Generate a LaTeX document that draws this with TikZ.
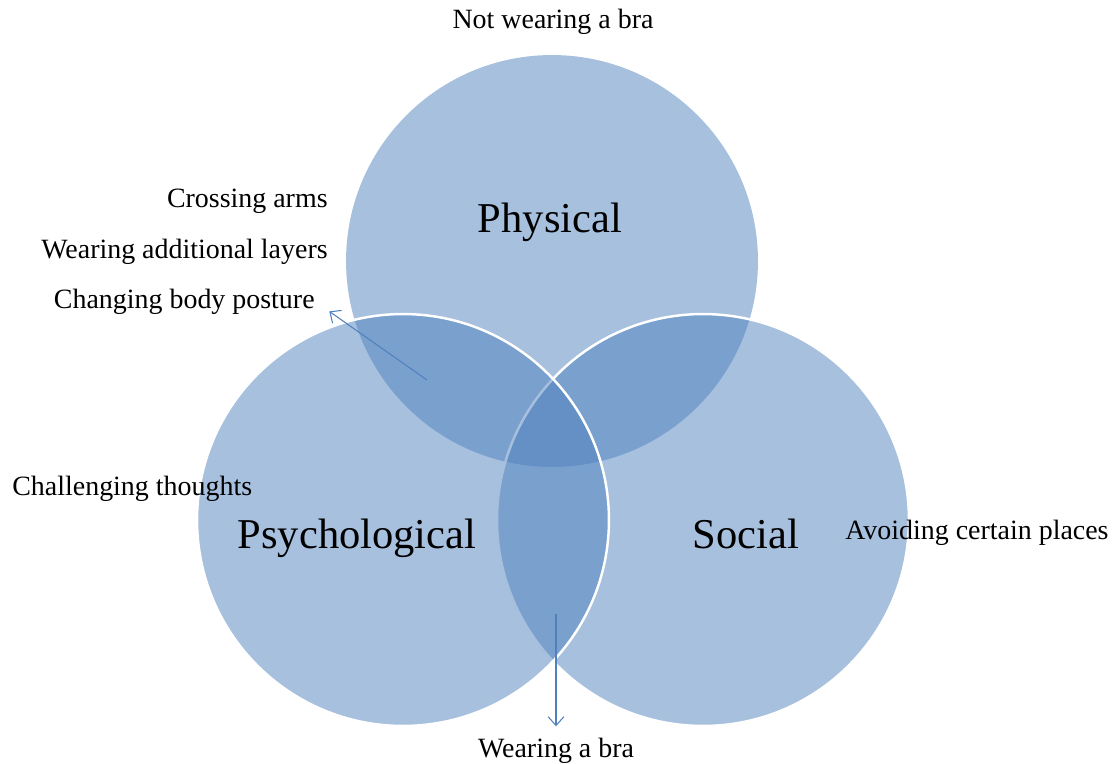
\documentclass[tikz,border=0pt]{standalone}
\usepackage{fontspec}
\setmainfont{Liberation Serif}
\usetikzlibrary{arrows.meta}
\definecolor{vennblue}{RGB}{79,129,189}
\tikzset{
	set/.style={fill=vennblue, fill opacity=0.5},
	rim/.style={draw=white, line width=1.4pt},
	big/.style={font=\fontsize{24.2}{29}\selectfont, inner sep=0pt, anchor=base},
	small/.style={font=\fontsize{15.9}{19}\selectfont, inner sep=0pt},
	pointer/.style={draw=vennblue, line width=0.6pt, -{Straight Barb[length=5pt,width=9pt]}}
}

\begin{document}
\begin{tikzpicture}[x=0.02cm, y=-0.02cm]
	\useasboundingbox (0,0) rectangle (1119,764);

	% the three sets
	\fill[set] (552,261) circle[radius=4.12cm];
	\filldraw[set, rim] (703,520) circle[radius=4.12cm];
	\filldraw[set, rim] (403,520) circle[radius=4.12cm];

	\node[big] (physical) at (550,232) {Physical};
	\node[big] (psych) at (357,548) {Psychological};
	\node[big] (social) at (746,548) {Social};

	\node[small, anchor=base] (nobra) at (553,29) {Not wearing a bra};
	\node[small, anchor=base east] (arms) at (328,207) {Crossing arms};
	\node[small, anchor=base east] (layers) at (328,258) {Wearing additional layers};
	\node[small, anchor=base east] (posture) at (315,308) {Changing body posture};
	\node[small, anchor=base west] (thoughts) at (12,495) {Challenging thoughts};
	\node[small, anchor=base west] (places) at (845,539) {Avoiding certain places};
	\node[small, anchor=base] (bra) at (556,757) {Wearing a bra};

	% pointers out of the overlaps
	\coordinate (lensPP) at (427,380);
	\coordinate (lensPS) at (556,614);
	\draw[pointer, shorten >=0.35cm] (lensPP) -- (posture.east);
	\draw[pointer, shorten >=0.22cm] (lensPS) -- (bra.north);
\end{tikzpicture}
\end{document}
